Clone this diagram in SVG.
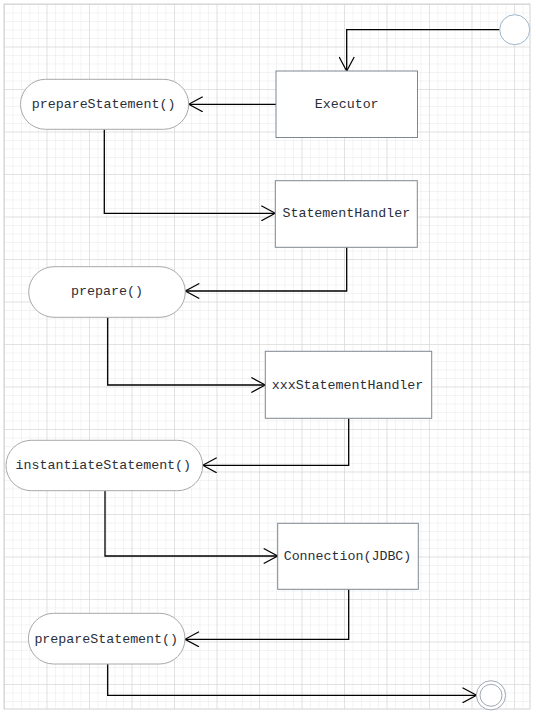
<svg xmlns="http://www.w3.org/2000/svg" width="536" height="714" viewBox="0 0 536 714">
<defs>
<pattern id="minor" x="4" y="4" width="8.5" height="8.5" patternUnits="userSpaceOnUse">
<path d="M0,0 V8.5 M0,0 H8.5" fill="none" stroke="#e8e8e8" stroke-width="1"/>
</pattern>
<pattern id="major" x="4" y="4" width="42.5" height="42.5" patternUnits="userSpaceOnUse">
<path d="M0,0 V42.5 M0,0 H42.5" fill="none" stroke="#d2d2d2" stroke-width="1"/>
</pattern>
<marker id="open" viewBox="0 0 16 16" refX="15" refY="8" markerWidth="16" markerHeight="16" markerUnits="userSpaceOnUse" orient="auto">
<path d="M1,0.5 L15,8 L1,15.5" fill="none" stroke="#000" stroke-width="1.2"/>
</marker>
<style>
.box{fill:#fff;stroke:#7d8791;stroke-width:1}
.pill{fill:#fff;stroke:#a8a8a8;stroke-width:1}
.lbl{font-family:"Liberation Mono","DejaVu Sans Mono",monospace;font-size:13.3px;fill:#2a2e38;text-anchor:middle;dominant-baseline:central}
.edge{fill:none;stroke:#000;stroke-width:1.3;marker-end:url(#open)}
</style>
</defs>
<rect x="0" y="0" width="536" height="714" fill="#fff"/>
<rect x="4" y="4" width="526" height="705" fill="url(#minor)"/>
<rect x="4" y="4" width="526" height="705" fill="url(#major)"/>
<rect x="4" y="4" width="526" height="705" fill="none" stroke="#d2d2d2" stroke-width="1"/>

<g id="connectors">
<path class="edge" d="M499.7,29.7 H346.7 V71"/>
<path class="edge" d="M276,104.3 H188.7"/>
<path class="edge" d="M104.3,129.3 V213.3 H275.3"/>
<path class="edge" d="M346.7,247.3 V291 H185.3"/>
<path class="edge" d="M107.7,317.3 V385 H265.3"/>
<path class="edge" d="M348.7,418.3 V465.3 H202.7"/>
<path class="edge" d="M105,490.7 V556 H277.7"/>
<path class="edge" d="M348.7,589.3 V639.3 H185"/>
<path class="edge" d="M107.7,664 V695.3 H476.5"/>
</g>

<g id="start">
<circle cx="514.7" cy="29.7" r="15" fill="#fff" stroke="#9fb6cc" stroke-width="1"/>
</g>
<g id="executor">
<rect class="box" x="276" y="71" width="141.5" height="66.5"/>
<text class="lbl" x="346.7" y="104.3">Executor</text>
</g>
<g id="prepareStatement1">
<rect class="pill" x="20.5" y="79.3" width="168.2" height="50" rx="25" ry="25"/>
<text class="lbl" x="103.6" y="104.3">prepareStatement()</text>
</g>
<g id="statementHandler">
<rect class="box" x="275.3" y="180.7" width="142" height="66.6"/>
<text class="lbl" x="346.3" y="213.3">StatementHandler</text>
</g>
<g id="prepare">
<rect class="pill" x="28.7" y="266.7" width="156.6" height="50.6" rx="25.3" ry="25.3"/>
<text class="lbl" x="107" y="291">prepare()</text>
</g>
<g id="xxxStatementHandler">
<rect class="box" x="265.3" y="351.3" width="166.4" height="67"/>
<text class="lbl" x="347.5" y="385">xxxStatementHandler</text>
</g>
<g id="instantiateStatement">
<rect class="pill" x="6" y="440.3" width="196.7" height="50.4" rx="25.2" ry="25.2"/>
<text class="lbl" x="103.3" y="465.3">instantiateStatement()</text>
</g>
<g id="connection">
<rect class="box" x="277.7" y="523.3" width="140.6" height="66"/>
<text class="lbl" x="347.5" y="556">Connection(JDBC)</text>
</g>
<g id="prepareStatement2">
<rect class="pill" x="28.4" y="613.3" width="156.6" height="50.7" rx="25.3" ry="25.3"/>
<text class="lbl" x="106.2" y="639.3">prepareStatement()</text>
</g>
<g id="end">
<circle cx="491" cy="695.3" r="14.6" fill="#fff" stroke="#a0a8b0" stroke-width="1"/>
<circle cx="491" cy="695.3" r="11" fill="#fff" stroke="#a0a8b0" stroke-width="1"/>
</g>
</svg>
